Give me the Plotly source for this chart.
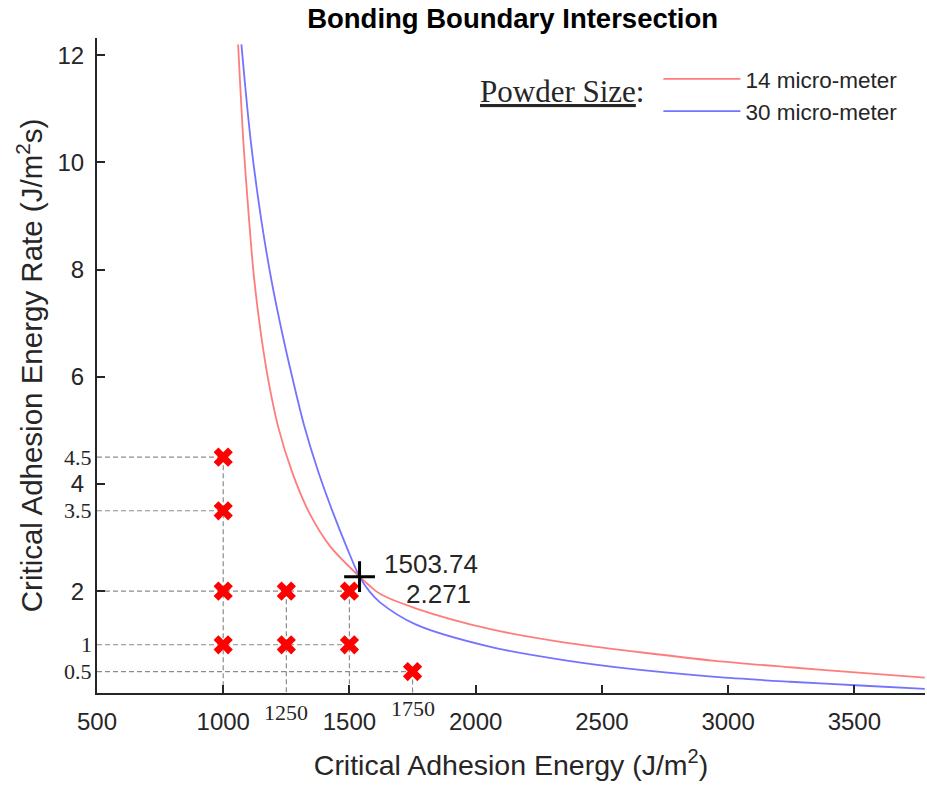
import plotly.graph_objects as go

# Curves
red_x = [1059, 1081, 1102, 1122, 1150, 1177, 1218, 1273, 1341, 1423, 1540, 1580, 1621, 1762, 2059, 2355, 2652, 2949, 3245, 3542, 3779]
red_y = [12.2, 10.3, 8.95, 7.85, 6.78, 5.98, 5.06, 4.22, 3.46, 2.84, 2.27, 2.10, 1.95, 1.68, 1.29, 1.04, 0.86, 0.70, 0.58, 0.47, 0.387]
blue_x = [1072, 1109, 1150, 1191, 1232, 1273, 1320, 1375, 1436, 1491, 1540, 1580, 1621, 1762, 2059, 2355, 2652, 2949, 3245, 3542, 3779]
blue_y = [12.2, 10.4, 8.95, 7.8, 6.85, 6.0, 5.1, 4.25, 3.45, 2.80, 2.27, 1.99, 1.79, 1.38, 0.96, 0.71, 0.53, 0.40, 0.31, 0.235, 0.177]

# Experimental points
pts_x = [1000, 1000, 1000, 1250, 1500, 1000, 1250, 1500, 1750]
pts_y = [4.5, 3.5, 2, 2, 2, 1, 1, 1, 0.5]

# Intersection marker and its data-tip text
int_x = [1540]
int_y = [2.27]
int_label_lines = ["1503.74", "2.271"]

x_ticks = [500, 1000, 1500, 2000, 2500, 3000, 3500]
y_ticks = [2, 4, 6, 8, 10, 12]
extra_y_labels = [4.5, 3.5, 1, 0.5]
extra_x_labels = [1250, 1750]

X_MIN, X_MAX = 500, 3780
Y_MIN, Y_MAX = 0.1, 12.32

SANS = "Arial, Liberation Sans"
SERIF = "Liberation Serif, Times New Roman"
TXT = "#262626"

fig = go.Figure()

# dashed guide lines built from the points
gx, gy = [], []
for lv in sorted(set(pts_y)):
    xm = max(px for px, py in zip(pts_x, pts_y) if py == lv)
    gx += [X_MIN, xm, None]
    gy += [lv, lv, None]
for xv in sorted(set(pts_x)):
    ym = max(py for px, py in zip(pts_x, pts_y) if px == xv)
    gx += [xv, xv, None]
    gy += [ym, Y_MIN, None]
fig.add_trace(go.Scatter(x=gx, y=gy, mode="lines", showlegend=False,
                         line=dict(color="#8c8c8c", width=1.2, dash="5px,3px"), hoverinfo="skip"))

fig.add_trace(go.Scatter(x=red_x, y=red_y, mode="lines", name="14 micro-meter", legendgroup="a",
                         line=dict(color="rgba(255,110,110,0.9)", width=1.8, shape="spline", smoothing=0.9)))
fig.add_trace(go.Scatter(x=blue_x, y=blue_y, mode="lines", name="30 micro-meter", legendgroup="b",
                         line=dict(color="rgba(100,100,255,0.9)", width=1.8, shape="spline", smoothing=0.9)))

fig.add_trace(go.Scatter(x=pts_x, y=pts_y, mode="markers", showlegend=False,
                         marker=dict(symbol="x", size=17, color="#ff0000", line=dict(width=0))))
fig.add_trace(go.Scatter(x=int_x, y=int_y, mode="markers", showlegend=False,
                         marker=dict(symbol="cross-thin", size=22, color="black",
                                     line=dict(width=3, color="black"))))

ann = []
for txt, xs, ys in zip(int_label_lines, [71, 79], [13, -17]):
    ann.append(dict(x=int_x[0], y=int_y[0], xref="x", yref="y", text=txt, showarrow=False,
                    xanchor="center", yanchor="middle", xshift=xs, yshift=ys, borderpad=0,
                    font=dict(family=SANS, size=26, color=TXT)))
for v in extra_y_labels:
    ann.append(dict(x=0, y=v, xref="paper", yref="y", text=str(v), showarrow=False,
                    xanchor="right", xshift=-3,
                    font=dict(family=SERIF, size=22, color=TXT)))
for v, ys in zip(extra_x_labels, [-5, -1]):
    ann.append(dict(x=v, y=0, xref="x", yref="paper", text=str(v), showarrow=False,
                    yanchor="top", yshift=ys,
                    font=dict(family=SERIF, size=22, color=TXT)))
ann.append(dict(x=0.5616, y=0.918, xref="paper", yref="paper", text="<u>Powder Size</u>:",
                showarrow=False, xanchor="center", yanchor="middle",
                font=dict(family=SERIF, size=31, color=TXT)))

fig.update_layout(
    width=927, height=786,
    margin=dict(l=97, r=2, t=38, b=93),
    paper_bgcolor="white", plot_bgcolor="white",
    title=dict(text="<b>Bonding Boundary Intersection</b>", x=0.553, xanchor="center",
               y=0.977, yanchor="middle",
               font=dict(family=SANS, size=27.5, color="black")),
    legend=dict(x=0.678, y=0.970, xanchor="left", yanchor="top", bgcolor="rgba(0,0,0,0)",
                font=dict(family=SANS, size=22.5, color=TXT),
                itemwidth=77, tracegroupgap=0),
    annotations=ann,
    showlegend=True,
)
fig.update_xaxes(range=[X_MIN, X_MAX], tickvals=x_ticks, ticks="inside", ticklen=8, tickwidth=1.5,
                 tickcolor=TXT, showline=True, linecolor=TXT, linewidth=2, showgrid=False,
                 zeroline=False, tickfont=dict(family=SANS, size=24, color=TXT), ticklabelstandoff=6,
                 title=dict(text="Critical Adhesion Energy (J/m<sup>2</sup>)", standoff=21,
                            font=dict(family=SANS, size=28.5, color=TXT)))
fig.update_yaxes(range=[Y_MIN, Y_MAX], tickvals=y_ticks, ticks="inside", ticklen=8, tickwidth=1.5,
                 tickcolor=TXT, showline=True, linecolor=TXT, linewidth=2, showgrid=False,
                 zeroline=False, tickfont=dict(family=SANS, size=24, color=TXT), ticklabelstandoff=6,
                 title=dict(text="Critical Adhesion Energy Rate (J/m<sup>2</sup>s)", standoff=6,
                            font=dict(family=SANS, size=29.5, color=TXT)))

fig.write_html("out.html")
